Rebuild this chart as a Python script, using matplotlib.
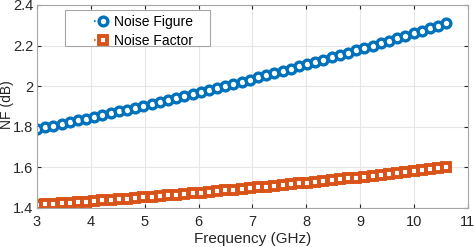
import matplotlib
matplotlib.use("Agg")
from matplotlib import pyplot as plt
from matplotlib.patches import Rectangle

freq = [3.000, 3.152, 3.304, 3.456, 3.608, 3.760, 3.912, 4.064, 4.216, 4.368,
        4.520, 4.672, 4.824, 4.976, 5.128, 5.280, 5.432, 5.584, 5.736, 5.888,
        6.040, 6.192, 6.344, 6.496, 6.648, 6.800, 6.952, 7.104, 7.256, 7.408,
        7.560, 7.712, 7.864, 8.016, 8.168, 8.320, 8.472, 8.624, 8.776, 8.928,
        9.080, 9.232, 9.384, 9.536, 9.688, 9.840, 9.992, 10.144, 10.296, 10.448,
        10.600]

noise_figure = [1.790, 1.798, 1.806, 1.815, 1.823, 1.832, 1.840, 1.849, 1.858, 1.867,
                1.876, 1.885, 1.894, 1.903, 1.913, 1.922, 1.932, 1.941, 1.951, 1.961,
                1.971, 1.981, 1.991, 2.001, 2.011, 2.022, 2.032, 2.043, 2.053, 2.064,
                2.075, 2.086, 2.097, 2.108, 2.119, 2.130, 2.142, 2.153, 2.165, 2.176,
                2.188, 2.200, 2.212, 2.224, 2.236, 2.248, 2.260, 2.273, 2.285, 2.298,
                2.310]

noise_factor = [1.415, 1.418, 1.420, 1.423, 1.426, 1.429, 1.431, 1.434, 1.437, 1.440,
                1.443, 1.446, 1.449, 1.453, 1.456, 1.459, 1.462, 1.466, 1.469, 1.472,
                1.476, 1.479, 1.483, 1.487, 1.490, 1.494, 1.498, 1.501, 1.505, 1.509,
                1.513, 1.517, 1.521, 1.525, 1.529, 1.533, 1.537, 1.541, 1.546, 1.550,
                1.554, 1.559, 1.563, 1.568, 1.572, 1.577, 1.581, 1.586, 1.591, 1.595,
                1.600]

x_ticks = [3, 4, 5, 6, 7, 8, 9, 10, 11]
y_ticks = [1.4, 1.6, 1.8, 2.0, 2.2, 2.4]
y_tick_labels = ["1.4", "1.6", "1.8", "2", "2.2", "2.4"]

plt.rcParams["font.family"] = ["Liberation Sans", "DejaVu Sans"]
plt.rcParams["font.size"] = 10

blue = "#0072bd"
orange = "#d95319"
text_color = "#262626"
edge_gray = "#a6a6a6"

fig = plt.figure(figsize=(4.74, 2.47), dpi=100)
ax = fig.add_axes([0.078, 0.158, 0.909, 0.822])

ax.plot(freq, noise_figure, ":", color=blue, marker="o", markersize=6.3,
        markerfacecolor="white", markeredgewidth=2.4, linewidth=1.2,
        label="Noise Figure")
ax.plot(freq, noise_factor, ":", color=orange, marker="s", markersize=5.8,
        markerfacecolor="white", markeredgewidth=2.8, linewidth=1.2,
        label="Noise Factor")

ax.set_xlim(3, 11)
ax.set_ylim(1.4, 2.4)
ax.set_xticks(x_ticks)
ax.set_yticks(y_ticks)
ax.set_yticklabels(y_tick_labels)
ax.grid(True, color="#e6e6e6", linewidth=0.8)
ax.set_axisbelow(True)
ax.tick_params(direction="in", length=3, color="#262626", labelcolor=text_color,
               labelsize=10.5, top=True, right=True)
ax.tick_params(axis="x", pad=5)
ax.tick_params(axis="y", pad=2.5)
for spine in ax.spines.values():
    spine.set_color(edge_gray)
    spine.set_linewidth(0.8)

ax.set_xlabel("Frequency (GHz)", fontsize=11, color=text_color, labelpad=2)
ax.set_ylabel("NF (dB)", fontsize=10, color=text_color)
ax.yaxis.set_label_coords(-0.054, 0.51)

# MATLAB-style legend: wide white box, entries inset
box = Rectangle((0.065, 0.798), 0.336, 0.177, transform=ax.transAxes,
                facecolor="white", edgecolor=edge_gray, linewidth=0.8, zorder=4)
ax.add_patch(box)
leg = ax.legend(loc="upper left", bbox_to_anchor=(0.133, 0.952), fontsize=10,
                frameon=False, handlelength=1.2, handletextpad=0.2,
                borderpad=0, labelspacing=0.36, borderaxespad=0)
leg.set_zorder(5)

fig.savefig("out.png", dpi=100)
